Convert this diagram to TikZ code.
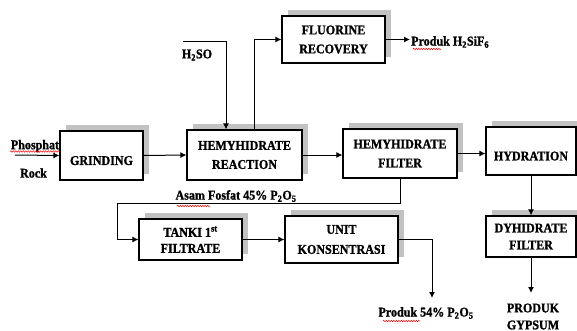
\documentclass[tikz,border=0pt]{standalone}
\usepackage{fontspec}
\setmainfont{Liberation Serif}[FakeStretch=0.9, BoldFeatures={FakeBold=1.2}]
\usetikzlibrary{shadows,arrows.meta,decorations.pathmorphing,calc}
\tikzset{
  txt/.style={font=\bfseries\fontsize{13.4}{19}\selectfont, inner sep=0pt, align=center},
  boxnode/.style={txt, draw=black, line width=1.2pt, fill=white,
    general shadow={shadow xshift=6pt, shadow yshift=6pt, fill=black!24, draw=none}},
  flow/.style={line width=1pt, -{Latex[length=6pt,width=6pt]}},
  spell/.style={red, line width=0.5pt, decorate, decoration={snake, amplitude=0.7pt, segment length=2.5pt}}
}
\begin{document}
\begin{tikzpicture}[x=1pt,y=-1pt]
\useasboundingbox (0,0) rectangle (577,331);
% boxes
\node[boxnode, minimum width=83pt, minimum height=49pt] (grind) at (101.5,155.5) {\mbox{}\\GRINDING};
\node[boxnode, minimum width=115pt, minimum height=50pt] (react) at (244.5,155) {HEMYHIDRATE\\REACTION};
\node[boxnode, minimum width=114pt, minimum height=49pt] (hfilt) at (400,153.5) {HEMYHIDRATE\\FILTER};
\node[boxnode, minimum width=90pt, minimum height=48pt] (hyd) at (531,151) {\mbox{}\\HYDRATION};
\node[boxnode, minimum width=90pt, minimum height=41pt, font=\bfseries\fontsize{13.4}{17}\selectfont] (dyh) at (531,236.5) {DYHIDRATE\\FILTER};
\node[boxnode, minimum width=103pt, minimum height=47pt] (fluor) at (333.5,39.5) {FLUORINE\\RECOVERY};
\node[boxnode, minimum width=103pt, minimum height=41pt, font=\bfseries\fontsize{13.4}{16}\selectfont] (tanki) at (190.5,239.5) {TANKI 1\textsuperscript{st}\\FILTRATE};
\node[boxnode, minimum width=113pt, minimum height=47pt, font=\bfseries\fontsize{13.4}{20}\selectfont] (unit) at (341.5,239.5) {UNIT\\KONSENTRASI};
% texts
\node[txt] (phos) at (35,146) {Phosphat};
\node[txt] (rock) at (33.5,173) {Rock};
\node[txt] (h2so) at (197,55) {H\textsubscript{2}SO};
\node[txt, anchor=west] (ph2) at (411,42) {Produk H\textsubscript{2}SiF\textsubscript{6}};
\node[txt] (asam) at (236,196) {Asam Fosfat 45\% P\textsubscript{2}O\textsubscript{5}};
\node[txt] (p54) at (426,313) {Produk 54\% P\textsubscript{2}O\textsubscript{5}};
\node[txt, font=\bfseries\fontsize{13.4}{17}\selectfont] (gyp) at (533,316.5) {PRODUK\\GYPSUM};
% coordinates
\coordinate (rockin) at (15,155);
\coordinate (h2sostart) at (183,42);
\coordinate (h2ocorner) at (226,42);
\coordinate (ph2end) at (410,39.5);
\coordinate (p54end) at (432,298);
\coordinate (gypend) at (531,293);
% connectors
\draw[flow] (rockin) -- (grind.west);
\draw[flow] (grind.east) -- (react.west);
\draw[flow] (h2sostart) -- (h2ocorner) -- (h2ocorner |- react.north);
\draw[flow] ($(react.north west)+(68,0)$) |- (fluor.west);
\draw[flow] (fluor.east) -- (ph2end);
\draw[flow] (react.east) -- (react.east -| hfilt.west);
\draw[flow] (hfilt.east) -- (hfilt.east -| hyd.west);
\draw[flow] (hfilt.south) -- (400,203) -- (117,203) |- (tanki.west);
\draw[flow] (tanki.east) -- (tanki.east -| unit.west);
\draw[flow] (unit.east) -| (p54end);
\draw[flow] (hyd.south) -- (dyh.north);
\draw[flow] (dyh.south) -- (gypend);
% spell-check underlines
\draw[spell] (10,151.5) -- (60,151.5);
\draw[spell] (413,49) -- (441,49);
\draw[spell] (177,206) -- (210,206);
\draw[spell] (383,321) -- (420,321);
\end{tikzpicture}
\end{document}
